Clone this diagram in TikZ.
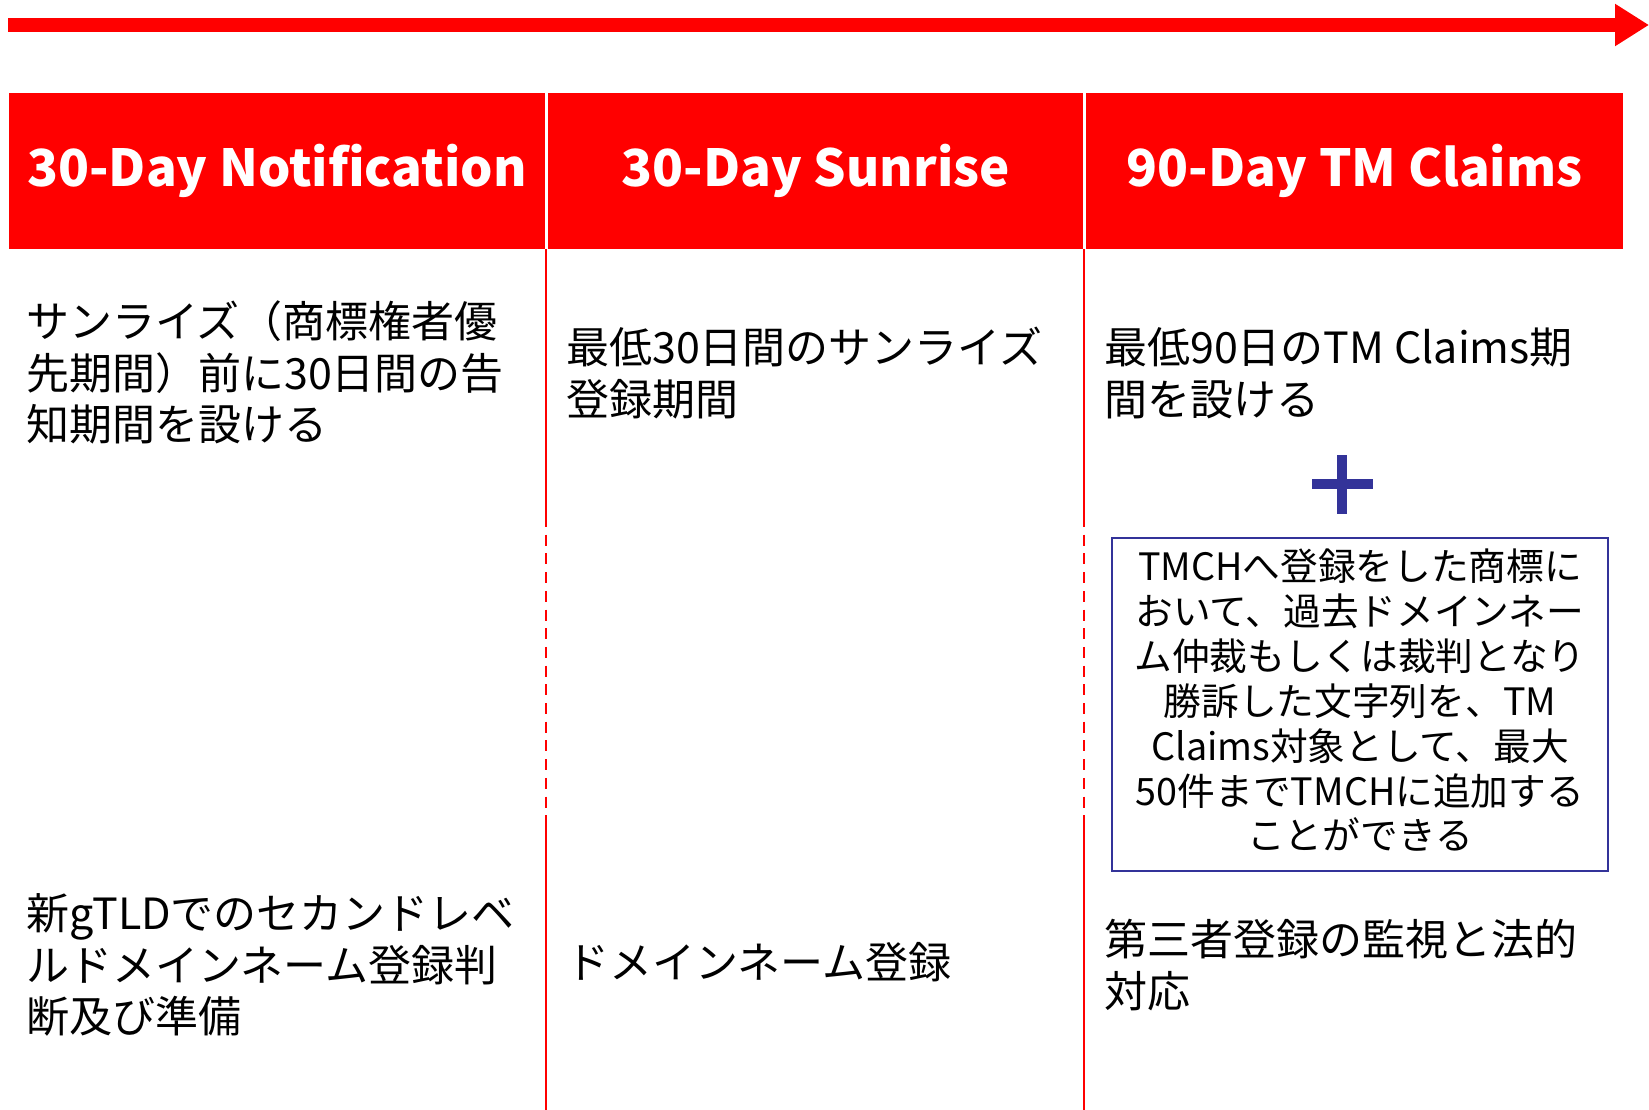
\documentclass[tikz,border=0pt]{standalone}
\usepackage{fontspec}
\setmainfont{Noto Sans CJK JP}
\usetikzlibrary{arrows.meta}
\definecolor{hred}{HTML}{FF0000}
\definecolor{pblue}{HTML}{333399}
\newcommand\tst{\rule{0pt}{0.9em}}
\begin{document}
\begin{tikzpicture}[x=1pt,y=-1pt,
  hdr/.style={fill=hred, text=white, inner sep=0pt, anchor=north west,
    minimum height=156.5pt, font=\fontsize{51}{60}\selectfont\bfseries},
  body/.style={anchor=north west, inner sep=0pt, align=left,
    font=\fontsize{43}{51.5}\selectfont, text=black},
  sepline/.style={draw=hred, line width=2.5pt},
  sepdash/.style={sepline, dash pattern=on 11pt off 7.7pt}]
\useasboundingbox (0,0) rectangle (1649,1110);

% timeline arrow
\coordinate (arrS) at (8.4,25);
\coordinate (arrE) at (1649,25);
\draw[hred, line width=14pt, -{Triangle[length=34pt,width=40pt]}] (arrS) -- (arrE);

% headers
\node[hdr, minimum width=536.6pt] (h1) at (8.4,92.5) {30-Day Notification};
\node[hdr, minimum width=535pt] (h2) at (548,92.5) {30-Day Sunrise};
\node[hdr, minimum width=537pt] (h3) at (1086,92.5) {90-Day TM Claims};

% separators
\coordinate (s1t) at (546,249);
\coordinate (s1a) at (546,516);
\coordinate (s1b) at (546,826);
\coordinate (s1e) at (546,1110);
\coordinate (s2t) at (1084,249);
\coordinate (s2a) at (1084,516);
\coordinate (s2b) at (1084,826);
\coordinate (s2e) at (1084,1110);
\draw[sepline] (s1t) -- (s1a);
\draw[sepdash] (s1a) -- (s1b);
\draw[sepline] (s1b) -- (s1e);
\draw[sepline] (s2t) -- (s2a);
\draw[sepdash] (s2a) -- (s2b);
\draw[sepline] (s2b) -- (s2e);

% body texts
\node[body] (t1) at (26,298.6) {\tst サンライズ（商標権者優\\先期間）前に30日間の告\\知期間を設ける};
\node[body] (t2) at (566,324.8) {\tst 最低30日間のサンライズ\\登録期間};
\node[body] (t3) at (1104,324.8) {\tst 最低90日のTM Claims期\\間を設ける};
\node[body] (b1) at (26,891) {\tst 新gTLDでのセカンドレベ\\ルドメインネーム登録判\\断及び準備};
\node[body] (b2) at (566,940) {\tst ドメインネーム登録};
\node[body] (b3) at (1104,917) {\tst 第三者登録の監視と法的\\対応};

% plus sign
\coordinate (plus) at (1342,484);
\fill[pblue] ([xshift=-30.5pt,yshift=-5pt]plus) rectangle ([xshift=30.5pt,yshift=5pt]plus);
\fill[pblue] ([xshift=-5pt,yshift=-29.5pt]plus) rectangle ([xshift=5pt,yshift=29.5pt]plus);

% TMCH box
\node[draw=pblue, line width=2.5pt, minimum width=496pt, minimum height=333pt, inner sep=0pt] (box) at (1360,704.5) {};
\node[anchor=north, align=center, inner sep=0pt, font=\fontsize{37.7}{44.9}\selectfont] (bt) at (1360,546.4)
  {\tst TMCHへ登録をした商標に\\おいて、過去ドメインネー\\ム仲裁もしくは裁判となり\\勝訴した文字列を、TM\\Claims対象として、最大\\50件までTMCHに追加する\\ことができる};
\end{tikzpicture}
\end{document}
